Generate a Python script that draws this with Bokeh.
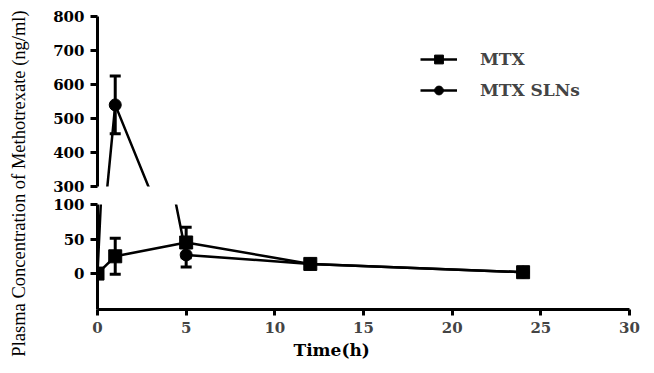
import math
from bokeh.plotting import figure
from bokeh.layouts import row, column
from bokeh.models import Range1d, FixedTicker, Legend, LegendItem, Label, Title, ColumnDataSource
from bokeh.embed import file_html
from bokeh.resources import INLINE

# ---- data ----
time_h = [0, 1, 5, 12, 24]
mtx = [0, 25, 45, 14, 2]
mtx_err = [0, 26, 22, 3, 2]
sln = [0, 540, 27, 14, 2]
sln_err = [0, 85, 17.5, 3, 2]
x_ticks = [0, 5, 10, 15, 20, 25, 30]
top_ticks = [300, 400, 500, 600, 700, 800]
bottom_ticks = [0, 50, 100]

BOLD_FONT = "DejaVu Serif"
LABEL_FONT = "Liberation Serif"

FRAME_W = 532
LEFT = 65
RIGHT = 15


def style_yaxis(p, ticks):
    ax = p.yaxis[0]
    ax.ticker = FixedTicker(ticks=ticks)
    ax.axis_line_width = 3
    ax.major_tick_line_width = 3
    ax.major_tick_out = 7
    ax.major_tick_in = 0
    ax.minor_tick_line_color = None
    ax.major_label_standoff = 6
    ax.major_label_text_font = BOLD_FONT
    ax.major_label_text_font_style = "bold"
    ax.major_label_text_font_size = "15px"
    ax.major_label_text_color = "black"


def add_series(p):
    renderers = {}
    for name, vals, errs, marker, msize in (
        ("MTX", mtx, mtx_err, "square", 13),
        ("MTX SLNs", sln, sln_err, "circle", 12),
    ):
        src = ColumnDataSource(dict(
            x=time_h, y=vals,
            lo=[v - e for v, e in zip(vals, errs)],
            hi=[v + e for v, e in zip(vals, errs)],
        ))
        p.segment(x0="x", y0="lo", x1="x", y1="hi", source=src, line_color="black", line_width=3)
        p.scatter(x="x", y="hi", source=src, marker="dash", size=11, line_color="black", line_width=3)
        p.scatter(x="x", y="lo", source=src, marker="dash", size=11, line_color="black", line_width=3)
        ln = p.line(x="x", y="y", source=src, line_color="black", line_width=2.5)
        sc = p.scatter(x="x", y="y", source=src, marker=marker, size=msize,
                       fill_color="black", line_color="black")
        renderers[name] = [ln, sc]
    return renderers


xr = Range1d(0, 30)

# ---- top panel ----
top = figure(output_backend="svg", toolbar_location=None, x_range=xr,
             y_range=Range1d(300, 800), frame_width=FRAME_W, frame_height=170,
             min_border_left=LEFT, min_border_right=RIGHT, min_border_top=16,
             min_border_bottom=9, x_axis_location=None)
top.outline_line_color = None
top.grid.visible = False
style_yaxis(top, top_ticks)
rend = add_series(top)

legend = Legend(items=[LegendItem(label=k, renderers=v) for k, v in rend.items()],
                location=(323, 85), padding=0, margin=0, spacing=9,
                glyph_width=37, glyph_height=22, label_standoff=23,
                label_text_font=BOLD_FONT, label_text_font_style="bold",
                label_text_font_size="17px", border_line_color=None,
                background_fill_alpha=0)
top.add_layout(legend)

# ---- bottom panel ----
bot = figure(output_backend="svg", toolbar_location=None, x_range=xr,
             y_range=Range1d(-52, 100), frame_width=FRAME_W, frame_height=105,
             min_border_left=LEFT, min_border_right=RIGHT, min_border_top=9,
             min_border_bottom=56)
bot.outline_line_color = None
bot.grid.visible = False
style_yaxis(bot, bottom_ticks)
add_series(bot)
xa = bot.xaxis[0]
xa.ticker = FixedTicker(ticks=x_ticks)
xa.axis_line_width = 3
xa.major_tick_line_width = 3
xa.major_tick_out = 6
xa.major_tick_in = 0
xa.minor_tick_line_color = None
xa.major_label_standoff = 6
xa.major_label_text_font = BOLD_FONT
xa.major_label_text_font_style = "bold"
xa.major_label_text_font_size = "15px"
bot.add_layout(Title(text="Time(h)", align="left", offset=196, standoff=4,
                     text_font=BOLD_FONT, text_font_style="bold",
                     text_font_size="17px", text_color="black"), "below")

# ---- y label panel ----
lab = figure(output_backend="svg", toolbar_location=None, width=32, height=365,
             x_range=Range1d(0, 1), y_range=Range1d(0, 1), min_border=0,
             x_axis_location=None, y_axis_location=None)
lab.outline_line_color = None
lab.grid.visible = False
lab.add_layout(Label(x=18, y=182, x_units="screen", y_units="screen",
                     text="Plasma Concentration of Methotrexate (ng/ml)",
                     angle=math.pi / 2, text_align="center", text_baseline="middle",
                     text_font=LABEL_FONT, text_font_size="18.5px", text_color="black"))

layout = row(lab, column(top, bot, spacing=0), spacing=0)

open("out.html", "w").write(file_html(layout, INLINE))
